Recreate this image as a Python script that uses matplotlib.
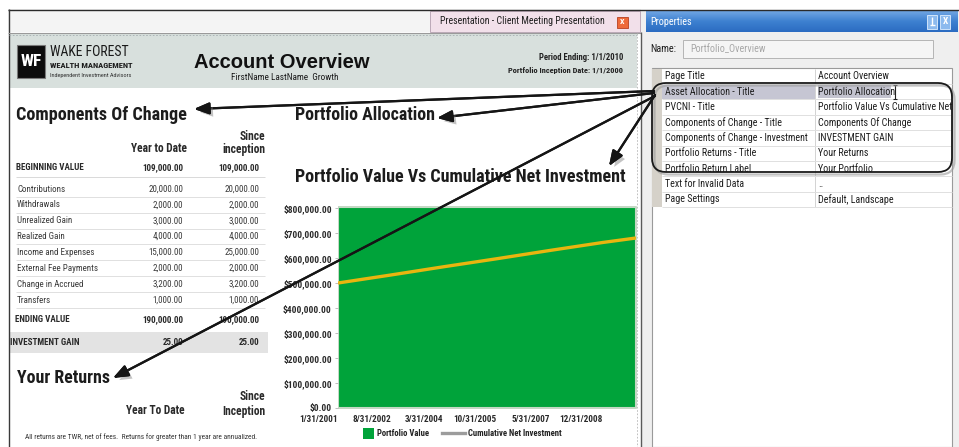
import numpy as np
import matplotlib
matplotlib.use('Agg')
import matplotlib.pyplot as plt
import matplotlib.patches as mpatches
import matplotlib.patheffects as pe
from matplotlib.lines import Line2D
from matplotlib.legend_handler import HandlerPatch
from matplotlib.colors import LinearSegmentedColormap
from matplotlib import font_manager as fm

# ---------------- data ----------------
series_dates = ['2001-01-31', '2002-08-31', '2004-03-31', '2005-10-31',
                '2007-05-31', '2008-12-31', '2009-12-31']
portfolio_value = [806000, 806000, 806000, 806000, 806000, 806000, 806000]
net_investment = [500000, 532000, 565000, 597000, 630000, 662000, 680000]
x_tick_dates = ['2001-01-31', '2002-08-31', '2004-03-31', '2005-10-31',
                '2007-05-31', '2008-12-31']
x_tick_labels = ['1/31/2001', '8/31/2002', '3/31/2004', '10/31/2005',
                 '5/31/2007', '12/31/2008']
y_ticks = [0, 100000, 200000, 300000, 400000, 500000, 600000, 700000, 800000]
legend_labels = ['Portfolio Value', 'Cumulative Net Investment']

coc_rows = ['Contributions', 'Withdrawals', 'Unrealized Gain', 'Realized Gain',
            'Income and Expenses', 'External Fee Payments', 'Change in Accrued',
            'Transfers']
coc_ytd = [20000.00, 2000.00, 3000.00, 4000.00, 15000.00, 2000.00, 3200.00, 1000.00]
coc_since = [20000.00, 2000.00, 3000.00, 4000.00, 25000.00, 2000.00, 3200.00, 1000.00]
beginning_value = [109000.00, 109000.00]
ending_value = [190000.00, 190000.00]
investment_gain = [25.00, 25.00]

prop_names = ['Page Title', 'Asset Allocation - Title', 'PVCNI - Title',
              'Components of Change - Title', 'Components of Change - Investment',
              'Portfolio Returns - Title', 'Portfolio Return Label',
              'Text for Invalid Data', 'Page Settings']
prop_values = ['Account Overview', 'Portfolio Allocation',
               'Portfolio Value Vs Cumulative Net', 'Components Of Change',
               'INVESTMENT GAIN', 'Your Returns', 'Your Portfolio', '..',
               'Default, Landscape']

# ---------------- fonts ----------------
WIDE = 'Liberation Sans'
_ttf = fm.fontManager.ttflist
_names = {f.name for f in _ttf}


def pick_narrow():
    for p in ['Liberation Sans Narrow', 'Arial Narrow', 'Roboto Condensed',
              'Open Sans Condensed', 'Noto Sans Condensed', 'DejaVu Sans Condensed']:
        if p in _names:
            return p, 'normal'
    for fam in ['Noto Sans', 'Open Sans', 'Roboto', 'DejaVu Sans']:
        for f in _ttf:
            if f.name == fam and str(f.stretch) in ('condensed', 'semi-condensed',
                                                    'extra-condensed'):
                return fam, str(f.stretch)
    return WIDE, 'normal'


NARROW, NSTRETCH = pick_narrow()

W, H = 959, 447
fig = plt.figure(figsize=(W / 100, H / 100), dpi=100)
fig.patch.set_facecolor('white')
_r = fig.canvas.get_renderer()
_sample = 'Income and Expenses 20,000.00 BEGINNING VALUE Year to Date'
_t1 = fig.text(0, 0, _sample, fontsize=10, fontfamily=NARROW, fontstretch=NSTRETCH)
_t2 = fig.text(0, 0, _sample, fontsize=10, fontfamily=WIDE)
_ratio = _t1.get_window_extent(_r).width / _t2.get_window_extent(_r).width
_t1.remove()
_t2.remove()
KN = 0.82 / _ratio


def nsize(s):
    return s * KN


bg = fig.add_axes([0, 0, 1, 1], zorder=0)
bg.set_xlim(0, W)
bg.set_ylim(H, 0)
bg.axis('off')


def T(x, y, s, size, bold=False, narrow=True, color='#262626', ha='left',
      va='center', ax=None, **kw):
    ax = ax or bg
    if narrow:
        return ax.text(x, y, s, fontsize=nsize(size), fontfamily=NARROW,
                       fontstretch=NSTRETCH, fontweight='bold' if bold else 'normal',
                       color=color, ha=ha, va=va, zorder=5, **kw)
    return ax.text(x, y, s, fontsize=size, fontfamily=WIDE,
                   fontweight='bold' if bold else 'normal', color=color,
                   ha=ha, va=va, zorder=5, **kw)


def R(x0, y0, x1, y1, fc, ec='none', lw=0.7, z=1, ax=None, **kw):
    ax = ax or bg
    p = mpatches.Rectangle((x0, y0), x1 - x0, y1 - y0, facecolor=fc,
                           edgecolor=ec, linewidth=lw, zorder=z, **kw)
    ax.add_patch(p)
    return p


def L(xs, ys, color, lw=0.7, ls='-', z=2, ax=None):
    ax = ax or bg
    ax.plot(xs, ys, color=color, lw=lw, ls=ls, zorder=z, solid_capstyle='butt')


# ---------------- window chrome ----------------
R(8, 9, 641, 32, '#f4f4f4')
L([8, 959], [9.5, 9.5], '#2a2a2a', 1.0)
L([8.5, 8.5], [9, 447], '#3a3a3a', 1.0)
R(430, 11, 640, 32, '#f2e0ea', ec='#bca9b8', lw=0.7)
T(440, 21.5, 'Presentation - Client Meeting Presentation', 7.4, color='#1e1e1e')
R(617, 16.5, 628, 27.5, '#ee6a3a', ec='#b84020', lw=0.6, z=3)
T(622.5, 22, 'X', 6.0, bold=True, color='white', ha='center')
L([8, 641], [32.5, 32.5], '#9a9a9a', 0.8)

# document header band
R(9, 34, 636.5, 88, '#d8e0dd')
L([9, 636.5], [35, 35], '#a5aeb0', 0.6, ls=(0, (2, 2)), z=2)
L([636.5, 636.5], [33, 447], '#b5b5b5', 0.6, ls=(0, (2, 2)), z=2)
L([640.5, 640.5], [32, 447], '#5a5a5a', 1.0)

# logo
R(17, 45, 45, 78, '#0c0c0c', ec='#7a7a7a', lw=0.8, z=2)
T(31, 62, 'WF', 13, bold=True, color='white', ha='center')
T(49.5, 52, 'WAKE FOREST', 10.3, color='#1a1a1a')
T(49.5, 65, 'WEALTH MANAGEMENT', 6.3, bold=True, color='#1a1a1a')
T(49.5, 75.5, 'Independent Investment Advisors', 4.7, color='#333333')

T(281.5, 62, 'Account Overview', 14.5, bold=True, narrow=False, color='#111111',
  ha='center')
T(285, 77.5, 'FirstName LastName  Growth', 6.9, color='#1a1a1a', ha='center')
T(623, 57, 'Period Ending: 1/1/2010', 6.4, bold=True, color='#222222', ha='right')
T(623, 71, 'Portfolio Inception Date: 1/1/2000', 6.2, bold=True, color='#222222',
  ha='right')

# ---------------- components of change ----------------
T(16, 115, 'Components Of Change', 13.5, bold=True, color='#1c1c1c')
T(265, 136, 'Since', 8.6, bold=True, color='#2a2a2a', ha='right')
T(187, 149, 'Year to Date', 8.6, bold=True, color='#2a2a2a', ha='right')
T(265, 149, 'inception', 8.6, bold=True, color='#2a2a2a', ha='right')

T(16, 168, 'BEGINNING VALUE', 6.7, bold=True, color='#2a2a2a')
T(183, 168, f'{beginning_value[0]:,.2f}', 6.7, bold=True, color='#2a2a2a', ha='right')
T(259, 168, f'{beginning_value[1]:,.2f}', 6.7, bold=True, color='#2a2a2a', ha='right')
L([16, 265], [177, 177], '#d9d9d9', 0.7)

row_y0, row_step = 189.0, 15.86
for i, (name, a, b) in enumerate(zip(coc_rows, coc_ytd, coc_since)):
    yy = row_y0 + i * row_step
    T(17, yy, name, 6.7, color='#3a3a3a')
    T(183, yy, f'{a:,.2f}', 6.7, color='#3a3a3a', ha='right')
    T(259, yy, f'{b:,.2f}', 6.7, color='#3a3a3a', ha='right')
    L([16, 265], [yy + 7.9, yy + 7.9], '#e0e0e0', 0.7)

T(15, 319.5, 'ENDING VALUE', 6.7, bold=True, color='#2a2a2a')
T(183, 319.5, f'{ending_value[0]:,.2f}', 6.7, bold=True, color='#2a2a2a', ha='right')
T(259, 319.5, f'{ending_value[1]:,.2f}', 6.7, bold=True, color='#2a2a2a', ha='right')

R(9, 332, 268, 353, '#e3e3e3')
T(10, 342.5, 'INVESTMENT GAIN', 6.7, bold=True, color='#2a2a2a')
T(183, 342.5, f'{investment_gain[0]:,.2f}', 6.7, bold=True, color='#2a2a2a', ha='right')
T(259, 342.5, f'{investment_gain[1]:,.2f}', 6.7, bold=True, color='#2a2a2a', ha='right')

# ---------------- your returns ----------------
T(17, 378, 'Your Returns', 13.3, bold=True, color='#1c1c1c')
T(265, 397, 'Since', 8.6, bold=True, color='#2a2a2a', ha='right')
T(185, 411, 'Year To Date', 8.6, bold=True, color='#2a2a2a', ha='right')
T(265, 411, 'Inception', 8.6, bold=True, color='#2a2a2a', ha='right')
T(25, 437.5, 'All returns are TWR, net of fees.  Returns for greater than 1 year are annualized.',
  5.5, color='#333333')

# ---------------- portfolio section titles ----------------
T(295, 115, 'Portfolio Allocation', 13.3, bold=True, color='#1c1c1c')
T(295, 177, 'Portfolio Value Vs Cumulative Net Investment', 13.4, bold=True,
  color='#1c1c1c')

# ---------------- chart ----------------
GREEN = '#00a33a'
ax = fig.add_axes([338 / W, 1 - 408 / H, (636 - 338) / W, (408 - 206) / H], zorder=1)
d = np.array(series_dates, dtype='datetime64[D]')
ax.fill_between(d, 0, portfolio_value, facecolor=GREEN, edgecolor='#c4d8c4',
                linewidth=1.5, zorder=1)
ax.plot(d, net_investment, color='#e8b50f', lw=2.4, zorder=2,
        solid_capstyle='butt')
ax.set_xlim(d[0], d[-1])
ax.set_ylim(0, 808000)
for s in ax.spines.values():
    s.set_visible(False)
ax.set_facecolor('white')
ax.set_yticks(y_ticks)
ax.set_yticklabels([f'${v:,.2f}' for v in y_ticks])
ax.set_xticks(np.array(x_tick_dates, dtype='datetime64[D]'))
ax.set_xticklabels(x_tick_labels, ha='right')
ax.tick_params(axis='y', length=2.5, width=0.7, color='#bdbdbd', pad=2)
ax.tick_params(axis='x', length=0, pad=5)
for lab in ax.get_yticklabels():
    lab.set_fontfamily(NARROW)
    lab.set_fontstretch(NSTRETCH)
    lab.set_fontweight('bold')
    lab.set_fontsize(nsize(7.0))
    lab.set_color('#2a2a2a')
for lab in ax.get_xticklabels():
    lab.set_fontfamily(NARROW)
    lab.set_fontstretch(NSTRETCH)
    lab.set_fontweight('bold')
    lab.set_fontsize(nsize(6.8))
    lab.set_color('#2a2a2a')


def square_patch(legend, orig_handle, xdescent, ydescent, width, height, fontsize):
    s = fontsize * 1.3
    return mpatches.Rectangle((-xdescent + width - s, -ydescent + height / 2 - s / 2),
                              s, s)


leg_font = fm.FontProperties(family=NARROW, stretch=NSTRETCH, weight='bold',
                             size=nsize(6.4))
leg = ax.legend(handles=[mpatches.Patch(facecolor=GREEN, edgecolor='none'),
                         Line2D([], [], color='#9c9c9c', lw=2.4)],
                labels=legend_labels,
                handler_map={mpatches.Patch: HandlerPatch(patch_func=square_patch)},
                ncol=2, loc='center left', bbox_to_anchor=(347 / W, 1 - 434 / H),
                bbox_transform=fig.transFigure, frameon=False, borderpad=0,
                handlelength=2.7, handletextpad=0.3, columnspacing=1.5,
                prop=leg_font)
for t in leg.get_texts():
    t.set_color('#222222')

# ---------------- properties panel ----------------
R(641, 10, 959, 447, '#efefef', z=0.5)
grad = np.linspace(0, 1, 40).reshape(-1, 1)
cmap = LinearSegmentedColormap.from_list('tb', ['#6fa5e3', '#3d80d0', '#2c6cc2'])
bg.imshow(grad, extent=[646, 958, 32, 11], aspect='auto', cmap=cmap, zorder=1,
          interpolation='bilinear')
T(650, 22, 'Properties', 7.7, color='white')
R(927, 15, 937, 29, '#8cbaee', ec='#e0efff', lw=0.6, z=3)
R(940, 15, 950, 29, '#8cbaee', ec='#e0efff', lw=0.6, z=3)
L([932, 932], [17, 24.5], 'white', 1.0, z=4)
L([929.5, 934.5], [24.5, 24.5], 'white', 1.0, z=4)
T(945, 22, 'X', 7.0, bold=True, color='white', ha='center')

T(650, 49.5, 'Name:', 7.6, color='#1e1e1e')
R(683, 40, 933, 58, '#f5f5f5', ec='#b5b5b5', lw=0.7, z=2)
T(690, 49.5, 'Portfolio_Overview', 7.6, color='#a8a8a8')

R(651.5, 68, 952, 447, 'white', ec='#9a9a9a', lw=0.8, z=1.5)
row_top, rh = 68.5, 15.4
n_rows = len(prop_names)
R(652, row_top, 662, row_top + rh * n_rows, '#d5d1c9', z=2)
L([815, 815], [row_top, row_top + rh * n_rows], '#d3d3d3', 0.7, z=3)
for i, (nm, val) in enumerate(zip(prop_names, prop_values)):
    yc = row_top + rh * (i + 0.5)
    if i == 1:
        R(662, row_top + rh * i, 815, row_top + rh * (i + 1), '#c6c6d3', z=2)
        R(817.5, row_top + rh * i + 1.5, 891, row_top + rh * (i + 1) - 1.5,
          '#c3c3cf', z=2)
    T(665, yc, nm, 7.45, color='#1e1e1e')
    T(818, yc, val, 7.45, color='#1e1e1e')
    L([662, 952], [row_top + rh * (i + 1), row_top + rh * (i + 1)], '#e0e0e0',
      0.7, z=3)
# text cursor
L([894.5, 894.5], [84.5, 99], '#202020', 0.8, z=6)
L([892.5, 896.5], [84.5, 84.5], '#202020', 0.8, z=6)
L([892.5, 896.5], [99, 99], '#202020', 0.8, z=6)

# ---------------- callout overlay ----------------
top = fig.add_axes([0, 0, 1, 1], zorder=5)
top.set_xlim(0, W)
top.set_ylim(H, 0)
top.axis('off')
for (dx, dy, col, lw, z) in [(2.5, 2.5, '#9a9a9a', 1.6, 3), (0, 0, '#1a1a1a', 1.3, 4)]:
    box = mpatches.FancyBboxPatch((652 + dx, 83 + dy), 300, 89,
                                  boxstyle='round,pad=0,rounding_size=14',
                                  fill=False, edgecolor=col, linewidth=lw,
                                  alpha=0.6 if dx else 1.0, zorder=z)
    top.add_patch(box)
shadow = [pe.withSimplePatchShadow(offset=(2.5, -2.5), shadow_rgbFace='#7a7a7a',
                                   alpha=0.45), pe.Normal()]
callouts = [((654, 91), (194, 109)),
            ((654, 93), (437, 118)),
            ((655, 95), (609, 166)),
            ((655, 96), (113, 378))]
for (p0, p1) in callouts:
    arr = mpatches.FancyArrowPatch(p0, p1,
                                   arrowstyle='-|>,head_length=0.9,head_width=0.35',
                                   mutation_scale=10, lw=1.6, color='#151515',
                                   shrinkA=0, shrinkB=0, zorder=5,
                                   path_effects=shadow)
    top.add_patch(arr)

for a in (bg, top):
    a.set_xlim(0, W)
    a.set_ylim(H, 0)

fig.savefig('out.png', dpi=100)
